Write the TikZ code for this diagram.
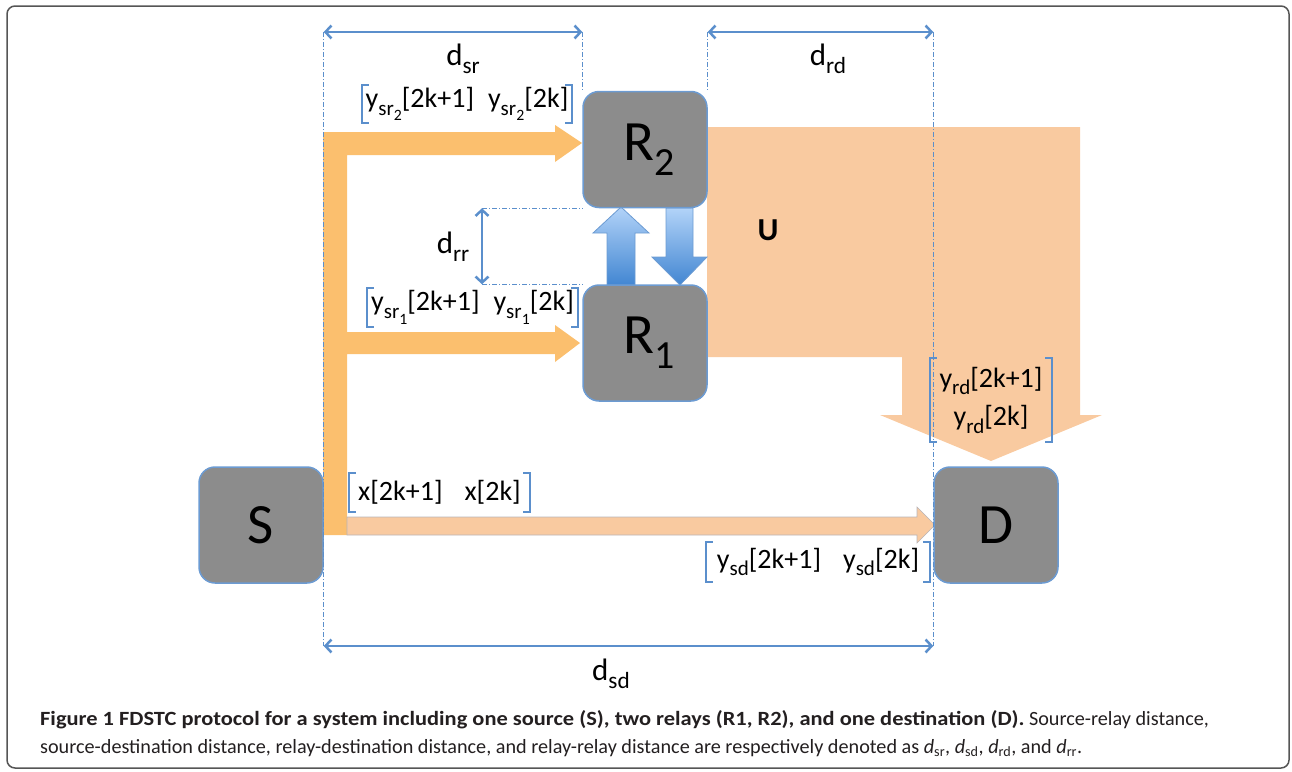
\documentclass[tikz,border=0pt]{standalone}
\usepackage{fontspec}
\setmainfont{Carlito}
\usetikzlibrary{arrows.meta}
\definecolor{boxgray}{HTML}{8C8C8C}
\definecolor{edgeblue}{HTML}{6C9BD2}
\definecolor{dimblue}{HTML}{5B8FCC}
\definecolor{srcorange}{HTML}{FBBF6E}
\definecolor{peach}{HTML}{F9CAA0}
\definecolor{peachedge}{HTML}{B9B4B8}
\definecolor{framegray}{HTML}{555555}
\definecolor{captext}{HTML}{231F20}
\definecolor{lightblue}{HTML}{B2D3F8}
\definecolor{darkblue}{HTML}{4286D2}
\newcommand\sbs[1]{\raisebox{-.28em}{\scalebox{.75}{#1}}}
\newcommand\fs[1]{\fontsize{#1}{#1}\selectfont}
\newcommand\brackets[1]{%
  \draw[brk] ([xshift=7pt]#1.north west) -- (#1.north west) -- (#1.south west) -- ([xshift=7pt]#1.south west)
             ([xshift=-7pt]#1.north east) -- (#1.north east) -- (#1.south east) -- ([xshift=-7pt]#1.south east);}
\tikzset{
  station/.style={draw=edgeblue, line width=1.5pt, fill=boxgray, rounded corners=16pt,
    minimum width=124pt, minimum height=116pt, inner sep=0pt, font=\fs{57}},
  dim/.style={draw=dimblue, line width=2.5pt,
    {Straight Barb[length=6pt,width=13pt]}-{Straight Barb[length=6pt,width=13pt]}},
  guide/.style={draw=dimblue, line width=1pt, dash pattern=on 5pt off 2pt on 1pt off 2pt},
  dlabel/.style={font=\fs{31}, anchor=base, inner sep=0pt},
  seq/.style={font=\fs{28}, inner sep=0pt, align=center},
  brk/.style={draw=dimblue, line width=2pt},
}
\begin{document}
\begin{tikzpicture}[x=1pt, y=-1pt]
  \useasboundingbox (0,0) rectangle (1292,771);
  \draw[framegray, line width=1.5pt, rounded corners=8pt] (7,6) rectangle (1289,768);

  % block arrows
  \fill[peach] (707,127) -- (1080,127) -- (1080,415) -- (1102,415) -- (991,461)
    -- (880,415) -- (902,415) -- (902,357) -- (707,357) -- cycle;
  \fill[srcorange] (323,132) -- (555,132) -- (555,125) -- (582,143) -- (555,162) -- (555,155)
    -- (347,155) -- (347,332) -- (555,332) -- (555,325) -- (580,343) -- (555,362)
    -- (555,354) -- (347,354) -- (347,535) -- (323,535) -- cycle;
  \filldraw[fill=peach, draw=peachedge, line width=0.6pt] (347,517) -- (917,517) -- (917,507)
    -- (935,525) -- (917,543) -- (917,535) -- (347,535) -- cycle;
  \shadedraw[top color=lightblue, bottom color=darkblue, draw=edgeblue, line width=0.8pt]
    (607,285) -- (607,233) -- (593,233) -- (621,207) -- (649,233) -- (635,233) -- (635,285) -- cycle;
  \shadedraw[top color=lightblue, bottom color=darkblue, draw=edgeblue, line width=0.8pt]
    (666,208) -- (693,208) -- (693,257) -- (707,257) -- (680,285) -- (652,257) -- (666,257) -- cycle;

  % stations
  \node[station] (S) at (261,525) {S};
  \node[station] (R2) at (645,149.5) {\hspace{8pt}R\raisebox{-.27em}{\scalebox{.7}{2}}};
  \node[station] (R1) at (645,343) {\hspace{8pt}R\raisebox{-.27em}{\scalebox{.7}{1}}};
  \node[station] (D) at (996,525) {D};
  \node[font=\fs{32}\bfseries] (u) at (768,230) {U};

  % distances
  \coordinate (dtop) at (0,32);
  \coordinate (dbot) at (0,646);
  \coordinate (drrx) at (482,0);
  \draw[guide] (S.east |- dtop) -- (S.east |- dbot);
  \draw[guide] (R2.west |- dtop) -- (R2.north west);
  \draw[guide] (R2.east |- dtop) -- (R2.north east);
  \draw[guide] (D.west |- dtop) -- (D.west |- dbot);
  \draw[guide] (drrx |- R2.south) -- (R2.south west);
  \draw[guide] (drrx |- R1.north) -- (R1.north west);
  \draw[dim] (S.east |- dtop) -- (R2.west |- dtop);
  \draw[dim] (R2.east |- dtop) -- (D.west |- dtop);
  \draw[dim] (S.east |- dbot) -- (D.west |- dbot);
  \draw[dim] (drrx |- R2.south) -- (drrx |- R1.north);
  \node[dlabel] (lsr) at (463,65) {d\sbs{sr}};
  \node[dlabel] (lrd) at (828,65) {d\sbs{rd}};
  \node[dlabel] (lrr) at (453,253) {d\sbs{rr}};
  \node[dlabel] (lsd) at (611,680) {d\sbs{sd}};

  % signals
  \node[seq, minimum width=210pt, minimum height=38pt] (ysr2) at (467,104)
    {y\sbs{sr\sbs{2}}[2k+1]\hspace{14pt}y\sbs{sr\sbs{2}}[2k]};
  \node[seq, minimum width=211pt, minimum height=39pt] (ysr1) at (472.5,307.5)
    {y\sbs{sr\sbs{1}}[2k+1]\hspace{14pt}y\sbs{sr\sbs{1}}[2k]};
  \node[seq, minimum width=181pt, minimum height=39pt] (xs) at (439.5,492.5)
    {x[2k+1]\hspace{22pt}x[2k]};
  \node[seq, minimum width=224pt, minimum height=40pt] (ysd) at (818,562)
    {y\sbs{sd}[2k+1]\hspace{22pt}y\sbs{sd}[2k]};
  \node[seq, minimum width=122pt, minimum height=84pt] (yrd) at (991,400)
    {y\sbs{rd}[2k+1]\\[9pt] y\sbs{rd}[2k]};
  \brackets{ysr2}
  \brackets{ysr1}
  \brackets{xs}
  \brackets{ysd}
  \brackets{yrd}

  % caption
  \node[anchor=base west, inner sep=0pt, font=\fs{20.2}, text=captext] (cap1) at (40,725)
    {\scalebox{1.11}[1]{\textbf{Figure 1 FDSTC protocol for a system including one source (S), two relays (R1, R2), and one destination (D).}} Source-relay distance,};
  \node[anchor=base west, inner sep=0pt, font=\fs{20.2}, text=captext] (cap2) at (40,753)
    {source-destination distance, relay-destination distance, and relay-relay distance are respectively denoted as \textit{d}\textsubscript{sr}, \textit{d}\textsubscript{sd}, \textit{d}\textsubscript{rd}, and \textit{d}\textsubscript{rr}.};
\end{tikzpicture}
\end{document}
